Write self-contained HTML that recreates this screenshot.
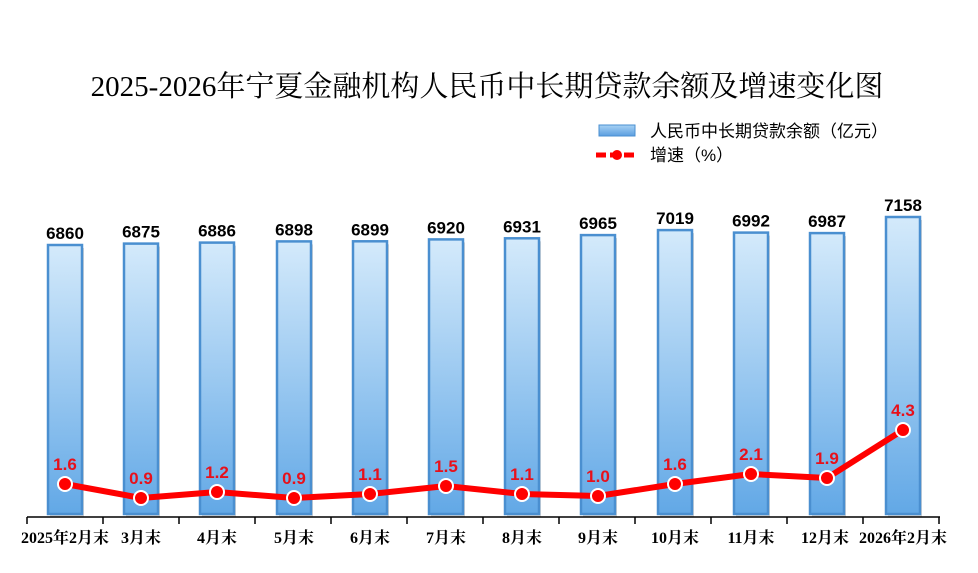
<!DOCTYPE html><html><head><meta charset="utf-8"><style>body{margin:0;background:#fff}</style></head><body>
<svg width="978" height="568" xmlns="http://www.w3.org/2000/svg" font-family="Liberation Sans, Noto Sans CJK SC, sans-serif">
<defs><linearGradient id="g" x1="0" y1="0" x2="0" y2="1"><stop offset="0" stop-color="#d4eafb"/><stop offset="1" stop-color="#62a8e6"/></linearGradient>
<linearGradient id="lg" x1="0" y1="0" x2="0" y2="1"><stop offset="0" stop-color="#a8d2f4"/><stop offset="1" stop-color="#5a9ee0"/></linearGradient></defs>
<text x="487" y="96" text-anchor="middle" font-family="Liberation Serif, Noto Serif CJK SC, serif" font-size="29" fill="#000">2025-2026年宁夏金融机构人民币中长期贷款余额及增速变化图</text>
<rect x="599" y="125" width="36" height="11" fill="url(#lg)" stroke="#4a8fd0"/>
<text x="650" y="137" font-size="17">人民币中长期贷款余额（亿元）</text>
<line x1="596" y1="155" x2="638" y2="155" stroke="#f00" stroke-width="5" stroke-dasharray="10,4"/>
<circle cx="617" cy="155" r="5" fill="#f00"/>
<text x="650" y="161" font-size="17">增速（%）</text>
<g fill="#bbb" opacity="0.6">
<rect x="50" y="248" width="34" height="269"/><rect x="126" y="246.6" width="34" height="270.4"/><rect x="202" y="245.6" width="34" height="271.4"/><rect x="279" y="244.4" width="34" height="272.6"/><rect x="355" y="244.3" width="34" height="272.7"/><rect x="431" y="242.4" width="34" height="274.6"/><rect x="507" y="241.3" width="34" height="275.7"/><rect x="583" y="238.1" width="34" height="278.9"/><rect x="660" y="233.1" width="34" height="283.9"/><rect x="736" y="235.6" width="34" height="281.4"/><rect x="812" y="236.1" width="34" height="280.9"/><rect x="888" y="220" width="34" height="297"/></g>
<g fill="url(#g)" stroke="#4a8fd0" stroke-width="2.5">
<rect x="48" y="245" width="34" height="269"/><rect x="124" y="243.6" width="34" height="270.4"/><rect x="200" y="242.6" width="34" height="271.4"/><rect x="277" y="241.4" width="34" height="272.6"/><rect x="353" y="241.3" width="34" height="272.7"/><rect x="429" y="239.4" width="34" height="274.6"/><rect x="505" y="238.3" width="34" height="275.7"/><rect x="581" y="235.1" width="34" height="278.9"/><rect x="658" y="230.1" width="34" height="283.9"/><rect x="734" y="232.6" width="34" height="281.4"/><rect x="810" y="233.1" width="34" height="280.9"/><rect x="886" y="217" width="34" height="297"/></g>
<g font-size="17" font-weight="bold" text-anchor="middle">
<text x="65" y="239">6860</text><text x="141" y="237.6">6875</text><text x="217" y="236.6">6886</text><text x="294" y="235.4">6898</text><text x="370" y="235.3">6899</text><text x="446" y="233.4">6920</text><text x="522" y="232.3">6931</text><text x="598" y="229.1">6965</text><text x="675" y="224.1">7019</text><text x="751" y="226.6">6992</text><text x="827" y="227.1">6987</text><text x="903" y="211">7158</text></g>
<polyline points="65,484 141,498 217,492 294,498 370,494 446,486 522,494 598,496 675,484 751,474 827,478 903,430" fill="none" stroke="#f00" stroke-width="6" stroke-linejoin="round"/>
<g fill="#f00" stroke="#fff" stroke-width="2">
<circle cx="65" cy="484" r="7"/><circle cx="141" cy="498" r="7"/><circle cx="217" cy="492" r="7"/><circle cx="294" cy="498" r="7"/><circle cx="370" cy="494" r="7"/><circle cx="446" cy="486" r="7"/><circle cx="522" cy="494" r="7"/><circle cx="598" cy="496" r="7"/><circle cx="675" cy="484" r="7"/><circle cx="751" cy="474" r="7"/><circle cx="827" cy="478" r="7"/><circle cx="903" cy="430" r="7"/></g>
<g font-size="17" font-weight="bold" fill="#e8101a" text-anchor="middle">
<text x="65" y="470">1.6</text><text x="141" y="484">0.9</text><text x="217" y="478">1.2</text><text x="294" y="484">0.9</text><text x="370" y="480">1.1</text><text x="446" y="472">1.5</text><text x="522" y="480">1.1</text><text x="598" y="482">1.0</text><text x="675" y="470">1.6</text><text x="751" y="460">2.1</text><text x="827" y="464">1.9</text><text x="903" y="416">4.3</text></g>
<line x1="27" y1="517" x2="940" y2="517" stroke="#000" stroke-width="1.5"/>
<g stroke="#000" stroke-width="1.5">
<line x1="27" y1="517" x2="27" y2="524"/><line x1="103" y1="517" x2="103" y2="524"/><line x1="179" y1="517" x2="179" y2="524"/><line x1="255" y1="517" x2="255" y2="524"/><line x1="331" y1="517" x2="331" y2="524"/><line x1="407" y1="517" x2="407" y2="524"/><line x1="483" y1="517" x2="483" y2="524"/><line x1="559" y1="517" x2="559" y2="524"/><line x1="635" y1="517" x2="635" y2="524"/><line x1="711" y1="517" x2="711" y2="524"/><line x1="787" y1="517" x2="787" y2="524"/><line x1="863" y1="517" x2="863" y2="524"/><line x1="939" y1="517" x2="939" y2="524"/></g>
<g font-family="Liberation Serif, Noto Serif CJK SC, serif" font-size="16" font-weight="bold" text-anchor="middle">
<text x="65" y="543">2025年2月末</text><text x="141" y="543">3月末</text><text x="217" y="543">4月末</text><text x="294" y="543">5月末</text><text x="370" y="543">6月末</text><text x="446" y="543">7月末</text><text x="522" y="543">8月末</text><text x="598" y="543">9月末</text><text x="675" y="543">10月末</text><text x="751" y="543">11月末</text><text x="825" y="543">12月末</text><text x="903" y="543">2026年2月末</text></g>
</svg></body></html>
